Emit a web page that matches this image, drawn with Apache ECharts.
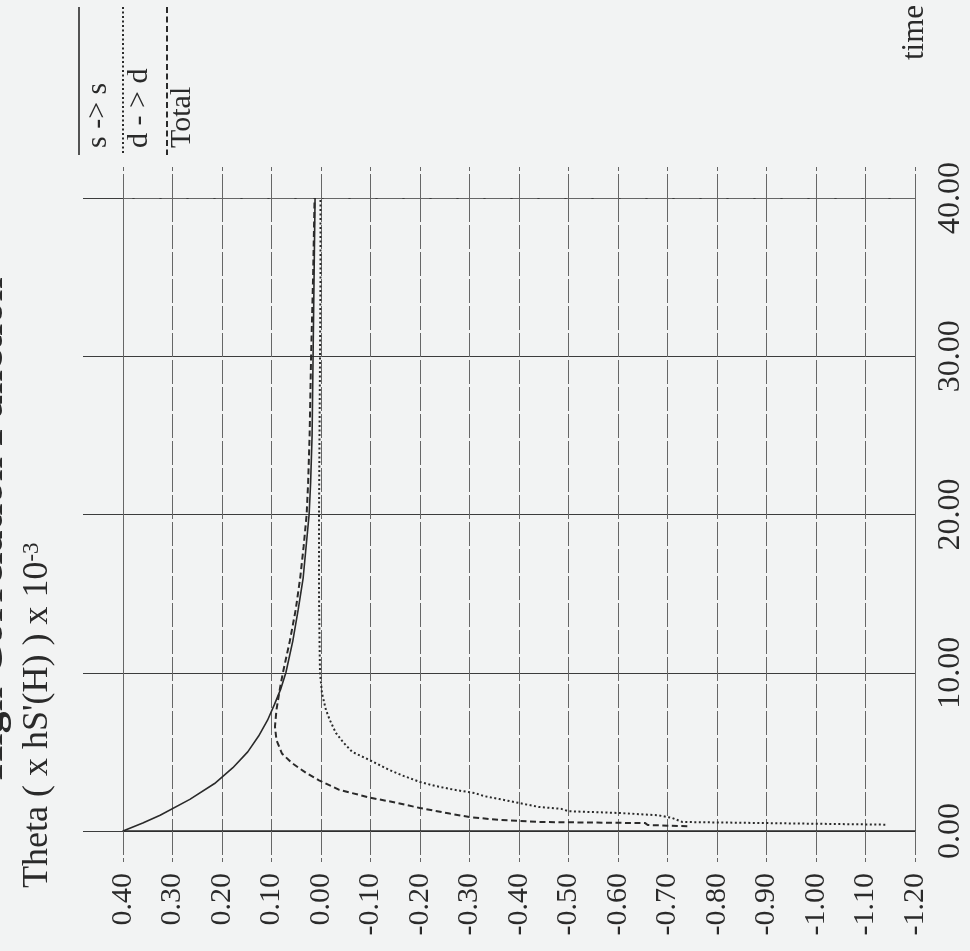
<!DOCTYPE html>
<html>
<head>
<meta charset="utf-8">
<title>Theta vs time</title>
<script src="https://cdn.jsdelivr.net/npm/echarts@6/dist/echarts.min.js"></script>
<style>
  html, body { margin: 0; padding: 0; background: #f2f3f3; }
  #chart { width: 970px; height: 951px; }
</style>
</head>
<body>
<div id="chart"></div>
<script>
// readings as [time, theta]
const ssData = [
  [0, 0.40], [0.5, 0.36], [1, 0.325], [2, 0.265], [3, 0.215], [4, 0.178],
  [5, 0.148], [6, 0.126], [7, 0.108], [8, 0.094], [9, 0.081], [10, 0.071],
  [12, 0.057], [14, 0.046], [16, 0.036], [18, 0.030], [20, 0.024], [22, 0.021],
  [25, 0.018], [30, 0.016], [35, 0.014], [40, 0.012]
]
const ddData = [
  [0.4, -1.14], [0.57, -0.73], [0.82, -0.71], [1.0, -0.68], [1.14, -0.60],
  [1.25, -0.50], [1.4, -0.485], [1.52, -0.44], [1.77, -0.40], [2.02, -0.36],
  [2.2, -0.33], [2.4, -0.31], [2.6, -0.27], [2.85, -0.23], [3.1, -0.20],
  [3.5, -0.165], [3.86, -0.138], [4.5, -0.097], [5.0, -0.063], [5.6, -0.045],
  [6.2, -0.030], [7.0, -0.018], [7.65, -0.010], [8.7, -0.002], [10, 0.002],
  [12, 0.003], [15, 0.004], [20, 0.004], [25, 0.003], [30, 0.002],
  [35, 0.001], [40, 0.001]
]
const totalData = [
  [0.3, -0.74], [0.38, -0.66], [0.5, -0.655], [0.57, -0.44], [0.7, -0.36],
  [0.88, -0.30], [1.1, -0.26], [1.45, -0.20], [1.8, -0.15], [2.1, -0.10],
  [2.6, -0.037], [3.2, 0.004], [3.67, 0.030], [4.3, 0.059], [4.9, 0.079],
  [5.75, 0.090], [6.6, 0.093], [7.65, 0.090], [9, 0.083], [10, 0.077],
  [12, 0.063], [14, 0.051], [16, 0.042], [18, 0.035], [20, 0.029],
  [22, 0.026], [25, 0.023], [30, 0.020], [35, 0.016], [40, 0.013]
]
const seriesNames = ['s -> s', 'd - > d', 'Total']

// axis ranges and tick steps
const thetaMin = -1.2
const thetaMax = 0.4
const thetaStep = 0.1
const timeMin = 0
const timeMax = 40
const timeStep = 10

const ink = '#2a2a2a'
const gridColor = '#666666'
const serif = "'Liberation Serif', 'DejaVu Serif', serif"

const fmt = v => (Math.abs(v) < 1e-9 ? 0 : v).toFixed(2)
// plot theta across, time upward
const toPoints = rows => rows.map(r => [r[1], r[0]])

const chart = echarts.init(document.getElementById('chart'))

const thetaAxis = (position, withLabels) => ({
  type: 'value',
  position: position,
  inverse: true,
  min: thetaMin,
  max: thetaMax,
  interval: thetaStep,
  axisLine: {
    show: true,
    onZero: false,
    lineStyle: position === 'bottom'
      ? { color: ink, width: 1.5 }
      : { color: gridColor, width: 1, type: [24, 3] }
  },
  axisTick: {
    show: true,
    inside: false,
    length: 31,
    lineStyle: { color: gridColor, width: 1, type: [24, 3] }
  },
  axisLabel: {
    show: withLabels,
    rotate: 90,
    margin: 42,
    fontSize: 30,
    fontFamily: serif,
    color: ink,
    hideOverlap: false,
    showMinLabel: true,
    showMaxLabel: true,
    formatter: fmt
  },
  splitLine: {
    show: withLabels,
    lineStyle: { color: gridColor, width: 1, type: [24, 3] }
  }
})

const option = {
  backgroundColor: '#f2f3f3',
  animation: false,
  grid: { left: 123, right: 55, top: 198, bottom: 120, outerBoundsMode: 'none' },
  xAxis: [thetaAxis('bottom', true), thetaAxis('top', false)],
  yAxis: [
    {
      type: 'value',
      position: 'right',
      min: timeMin,
      max: timeMax,
      interval: timeStep,
      name: 'time',
      nameLocation: 'end',
      nameRotate: 90,
      nameGap: 138,
      nameTextStyle: { fontSize: 31, fontFamily: serif, color: ink },
      axisLine: { show: true, onZero: false, lineStyle: { color: gridColor, width: 1, type: [24, 3] } },
      axisTick: { show: false },
      axisLabel: {
        rotate: 90,
        margin: 20,
        fontSize: 32,
        fontFamily: serif,
        color: ink,
        showMinLabel: true,
        showMaxLabel: true,
        formatter: fmt
      },
      splitLine: { show: true, lineStyle: { color: '#3c3c3c', width: 1.2 } }
    },
    {
      type: 'value',
      position: 'left',
      min: timeMin,
      max: timeMax,
      interval: timeStep,
      axisLine: { show: true, onZero: false, lineStyle: { color: gridColor, width: 1, type: [24, 3] } },
      axisTick: { show: true, length: 40, lineStyle: { color: '#3c3c3c', width: 1.2 } },
      axisLabel: { show: false },
      splitLine: { show: false }
    }
  ],
  series: [
    {
      name: seriesNames[0],
      type: 'line',
      data: toPoints(ssData),
      symbol: 'none',
      lineStyle: { color: ink, width: 1.6 }
    },
    {
      name: seriesNames[1],
      type: 'line',
      data: toPoints(ddData),
      symbol: 'none',
      lineStyle: { color: ink, width: 2, type: [2, 2.5] }
    },
    {
      name: seriesNames[2],
      type: 'line',
      data: toPoints(totalData),
      symbol: 'none',
      lineStyle: { color: ink, width: 2, type: [6, 3.5] }
    }
  ],
  graphic: [
    // legend, drawn sideways like the page
    { type: 'line', shape: { x1: 79, y1: 7, x2: 79, y2: 155 }, style: { stroke: ink, lineWidth: 1.6 } },
    { type: 'line', shape: { x1: 123, y1: 7, x2: 123, y2: 155 }, style: { stroke: ink, lineWidth: 2, lineDash: [2, 2.5] } },
    { type: 'line', shape: { x1: 167, y1: 7, x2: 167, y2: 155 }, style: { stroke: ink, lineWidth: 2, lineDash: [6, 3.5] } },
    {
      type: 'text', x: 98, y: 148, rotation: Math.PI / 2,
      style: { text: seriesNames[0], font: '30px ' + serif, fill: ink, align: 'left', verticalAlign: 'middle', textAlign: 'left', textVerticalAlign: 'middle' }
    },
    {
      type: 'text', x: 139, y: 148, rotation: Math.PI / 2,
      style: { text: seriesNames[1], font: '30px ' + serif, fill: ink, align: 'left', verticalAlign: 'middle', textAlign: 'left', textVerticalAlign: 'middle' }
    },
    {
      type: 'text', x: 182, y: 148, rotation: Math.PI / 2,
      style: { text: seriesNames[2], font: '30px ' + serif, fill: ink, align: 'left', verticalAlign: 'middle', textAlign: 'left', textVerticalAlign: 'middle' }
    },
    // axis title
    {
      type: 'text', x: 38, y: 888, rotation: Math.PI / 2,
      style: {
        text: "Theta ( x hS'(H) ) x 10{sup|-3}",
        font: '36px ' + serif,
        fill: ink,
        align: 'left', verticalAlign: 'middle', textAlign: 'left', textVerticalAlign: 'middle',
        rich: { sup: { fontSize: 23, fontFamily: serif, fill: ink, color: ink, verticalAlign: 'top' } }
      }
    },
    // page heading, mostly cut off at the edge
    {
      type: 'text', x: -9, y: 780, rotation: Math.PI / 2,
      style: { text: 'High Correlation Function', font: 'bold 44px ' + serif, fill: ink, align: 'left', verticalAlign: 'middle', textAlign: 'left', textVerticalAlign: 'middle' }
    }
  ]
}

chart.setOption(option)
</script>
</body>
</html>
